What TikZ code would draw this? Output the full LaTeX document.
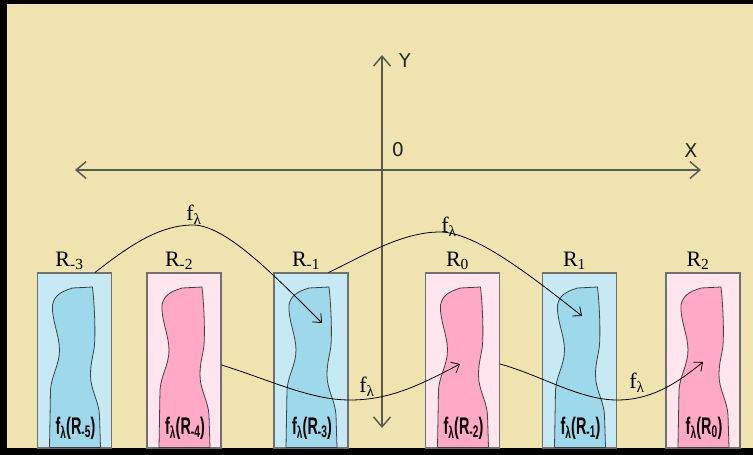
\documentclass[tikz,border=0pt]{standalone}
\usepackage{fontspec}
\setmainfont{Liberation Serif}
\newfontfamily\axisfont{DejaVu Sans}
\newfontfamily\tagfont{Liberation Sans}
\usetikzlibrary{arrows.meta,positioning,calc}
\definecolor{sand}{HTML}{EFE3B0}
\definecolor{paleblue}{HTML}{C6E9F3}
\definecolor{blobblue}{HTML}{9DD9EA}
\definecolor{palepink}{HTML}{FFE6EE}
\definecolor{blobpink}{HTML}{FFA9C6}
\definecolor{rim}{HTML}{707070}
\definecolor{axisgray}{HTML}{5A5A50}
% irregular region inside a box, #1 = left edge of the box
\newcommand\drawblob[2]{%
  \filldraw[fill=#2,draw=black!75,line width=0.8pt,shift={(#1,0)}]
    (15,305) .. controls (17,296) and (22,292) .. (35,288) -- (55,287)
    .. controls (57,305) and (58,330) .. (57,345)
    .. controls (56,355) and (53,362) .. (53,375)
    .. controls (53,390) and (61,400) .. (62,415) -- (63,447.5) -- (12,447.5)
    -- (13,390) .. controls (14,375) and (22,365) .. (22,350)
    .. controls (22,335) and (14,320) .. (15,305) -- cycle;}

\begin{document}
\begin{tikzpicture}[x=1pt,y=-1pt,
  box/.style={draw=rim,line width=1.1pt,minimum width=74pt,minimum height=175pt,inner sep=0pt},
  rname/.style={anchor=base,font=\fontsize{22}{24}\selectfont},
  fname/.style={font=\fontsize{22}{24}\selectfont},
  imgtag/.style={font=\tagfont\bfseries\fontsize{24}{26}\selectfont},
  axlabel/.style={font=\axisfont\fontsize{19}{21}\selectfont,text=black!85},
  axis/.style={axisgray,line width=1.5pt,
    {Straight Barb[length=10pt,width=17pt]}-{Straight Barb[length=10pt,width=17pt]}},
  fmap/.style={black,line width=0.8pt,-{Straight Barb[length=7pt,width=12pt]}}]
  % frame
  \fill[black] (0,0) rectangle (753,455);
  \fill[sand] (7,4) rectangle (753,448);
  % boxes with their regions
  \foreach \c/\n/\s in {74.5/rm3/blue,184/rm2/pink,311/rm1/blue,462.5/r0/pink,579.5/r1/blue,703/r2/pink}{
    \node[box,fill=pale\s] (\n) at (\c,360.5) {};
    \drawblob{\c-37}{blob\s}
  }
  % names above the boxes
  \foreach \n/\t in {rm3/{-3},rm2/{-2},rm1/{-1},r0/0,r1/1,r2/2}
    \node[rname] (l\n) at ($(\n.north)+(-5,-6)$) {R\textsubscript{\t}};
  % images inside the boxes
  \foreach \n/\t in {rm3/{-5},rm2/{-4},rm1/{-3},r0/{-2},r1/{-1},r2/0}
    \node[imgtag] (g\n) at ($(\n.center)+(1,67.5)$)
      {\scalebox{0.6}[1]{f\textsubscript{λ}(R\textsubscript{\t})}};
  % axes
  \draw[axis] (75,170) -- (701,170);
  \draw[axis] (382,428) -- (382,55);
  \node[axlabel] (xl) at (691,151) {X};
  \node[axlabel] (yl) at (405,61) {Y};
  \node[axlabel] (ol) at (398,150) {0};
  % maps
  \coordinate (s1) at ($(rm3.north east)+(-17,0)$);
  \coordinate (t1) at ($(rm1.center)+(11,-37.5)$);
  \coordinate (s2) at ($(rm1.north east)+(-20,0)$);
  \coordinate (t2) at ($(r1.center)+(2.5,-44.5)$);
  \coordinate (s3) at ($(rm2.east)+(0,4.5)$);
  \coordinate (t3) at ($(r0.center)+(-2.5,3.5)$);
  \coordinate (s4) at ($(r0.east)+(0,3.5)$);
  \coordinate (t4) at ($(r2.center)+(0,1.5)$);
  \draw[fmap] (s1) .. controls (130,245) and (160,225) .. (193,225)
    .. controls (225,225) and (272,273) .. (t1);
  \draw[fmap] (s2) .. controls (360,258) and (400,232) .. (440,232)
    .. controls (475,232) and (530,275) .. (t2);
  \draw[fmap] (s3) .. controls (270,380) and (310,400) .. (350,400)
    .. controls (390,400) and (420,385) .. (t3);
  \draw[fmap] (s4) .. controls (540,375) and (580,400) .. (617,400)
    .. controls (650,400) and (675,385) .. (t4);
  \node[fname] (f1) at (194,215) {f\textsubscript{λ}};
  \node[fname] (f2) at (449,227) {f\textsubscript{λ}};
  \node[fname] (f3) at (367,387) {f\textsubscript{λ}};
  \node[fname] (f4) at (637,383) {f\textsubscript{λ}};
\end{tikzpicture}
\end{document}
